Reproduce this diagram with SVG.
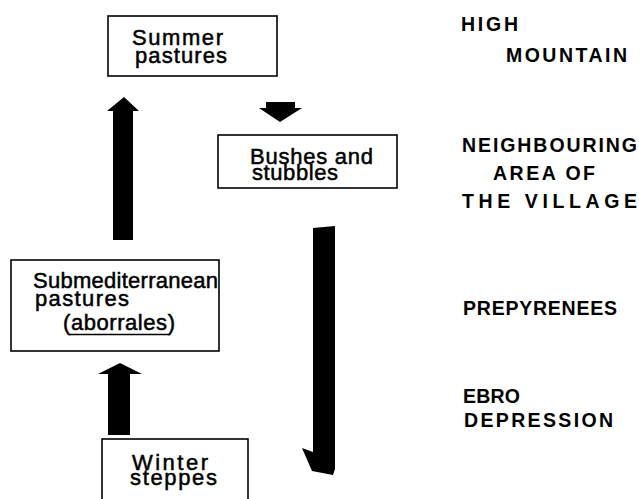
<svg xmlns="http://www.w3.org/2000/svg" width="639" height="499" viewBox="0 0 639 499">
<style>
.box{fill:#fff;stroke:#000;stroke-width:1.6}
.t{font-family:"Liberation Sans",Arial,sans-serif;font-size:22px;fill:#000;stroke:#000;stroke-width:0.5}
.r{font-family:"Liberation Sans",Arial,sans-serif;font-size:19.5px;font-weight:bold;fill:#000}
.arr{fill:#000}
</style>
<rect width="639" height="499" fill="#fff"/>
<g id="summer">
<rect class="box" x="108" y="16" width="169" height="60"/>
<text class="t" x="132" y="45" textLength="91" lengthAdjust="spacing">Summer</text>
<text class="t" x="135" y="63" textLength="92" lengthAdjust="spacing">pastures</text>
</g>
<g id="bushes">
<rect class="box" x="218" y="135" width="179" height="53"/>
<text class="t" x="250" y="164" textLength="123" lengthAdjust="spacing">Bushes and</text>
<text class="t" x="252" y="180" textLength="86" lengthAdjust="spacing">stubbles</text>
</g>
<g id="submed">
<rect class="box" x="11" y="260" width="208" height="91"/>
<text class="t" x="33" y="288" textLength="185" lengthAdjust="spacing">Submediterranean</text>
<text class="t" x="35" y="306" textLength="94" lengthAdjust="spacing">pastures</text>
<text class="t" x="63" y="330" textLength="112" lengthAdjust="spacing">(aborrales)</text>
<line x1="69" y1="334.5" x2="170" y2="334.5" stroke="#000" stroke-width="1.3"/>
</g>
<g id="winter">
<rect class="box" x="102" y="439" width="146" height="70"/>
<text class="t" x="132" y="470" textLength="76" lengthAdjust="spacing">Winter</text>
<text class="t" x="130" y="485" textLength="87" lengthAdjust="spacing">steppes</text>
</g>
<g id="zones">
<text class="r" x="461" y="31" textLength="57" lengthAdjust="spacing">HIGH</text>
<text class="r" x="506" y="62" textLength="121" lengthAdjust="spacing">MOUNTAIN</text>
<text class="r" x="462" y="152" textLength="175" lengthAdjust="spacing">NEIGHBOURING</text>
<text class="r" x="493" y="180" textLength="102" lengthAdjust="spacing">AREA OF</text>
<text class="r" x="462" y="208" textLength="175" lengthAdjust="spacing">THE  VILLAGE</text>
<text class="r" x="463" y="315" textLength="154" lengthAdjust="spacing">PREPYRENEES</text>
<text class="r" x="463" y="403" textLength="57" lengthAdjust="spacing">EBRO</text>
<text class="r" x="464" y="427" textLength="149" lengthAdjust="spacing">DEPRESSION</text>
</g>
<g id="connectors">
<polygon class="arr" points="113,240 133,240 133,111 139,111 124,97 107,111 113,111"/>
<polygon class="arr" points="266,102 295,102 295,108 302,108 280,122 259,108 266,108"/>
<polygon class="arr" points="108,435 130,435 130,374 142,374 120,363 98,374 108,374"/>
<polygon class="arr" points="313,228 335,226 335,469 333,475 312,471 302,448 313,452"/>
</g>
</svg>
